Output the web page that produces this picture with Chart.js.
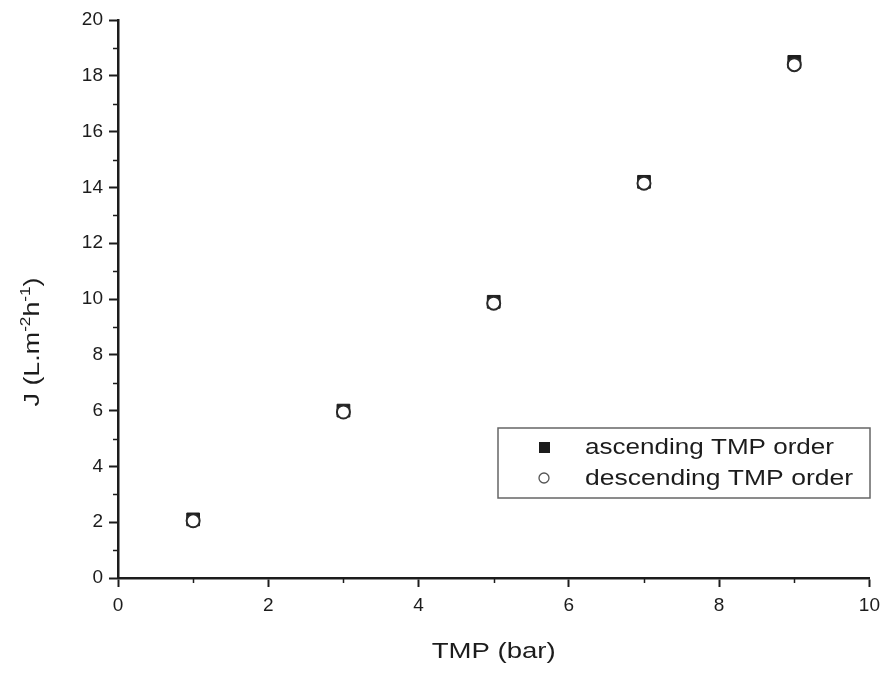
<!DOCTYPE html>
<html>
<head>
<meta charset="utf-8">
<script src="https://cdn.jsdelivr.net/npm/chart.js@4/dist/chart.umd.min.js"></script>
<style>
  html, body { margin: 0; padding: 0; background: #fff; }
  #wrap { width: 887px; height: 673px; }
</style>
</head>
<body>
<div id="wrap"><canvas id="flux"></canvas></div>
<script>
"use strict";

// TMP (bar) and permeate flux J (L.m-2h-1)
const tmp = [1, 3, 5, 7, 9];
const fluxAscending = [2.1, 6.0, 9.9, 14.2, 18.5];
const fluxDescending = [2.05, 5.95, 9.85, 14.15, 18.4];
const seriesLabels = ['ascending TMP order', 'descending TMP order'];
const xTitle = 'TMP (bar)';
// y title split into [text, isSuperscript]
const yTitleParts = [['J (L.m', false], ['-2', true], ['h', false], ['-1', true], [')', false]];

const FONT = '"Liberation Sans", Arial, sans-serif';
const INK = '#1c1c1c';

// text in the scan is a little wider than the font, so squeeze it to a target width
function stretchedText(ctx, text, x, y, targetW, align) {
    const w = ctx.measureText(text).width;
    ctx.save();
    ctx.translate(x, y);
    ctx.scale(targetW / w, 1);
    ctx.textAlign = align;
    ctx.fillText(text, 0, 0);
    ctx.restore();
}

const extras = {
    id: 'extras',
    afterDraw(chart) {
        const ctx = chart.ctx;
        const xs = chart.scales.x, ys = chart.scales.y;
        const area = chart.chartArea;
        ctx.save();

        // minor ticks
        ctx.strokeStyle = INK;
        ctx.lineWidth = 1.5;
        for (let v = 1; v < 10; v += 2) {
            const px = Math.round(xs.getPixelForValue(v)) + 0.5;
            ctx.beginPath();
            ctx.moveTo(px, area.bottom);
            ctx.lineTo(px, area.bottom + 5);
            ctx.stroke();
        }
        for (let v = 1; v < 20; v += 2) {
            const py = Math.round(ys.getPixelForValue(v)) + 0.5;
            ctx.beginPath();
            ctx.moveTo(area.left, py);
            ctx.lineTo(area.left - 5, py);
            ctx.stroke();
        }

        // axis titles
        ctx.fillStyle = INK;
        ctx.textBaseline = 'middle';
        ctx.font = '22px ' + FONT;
        stretchedText(ctx, xTitle, (area.left + area.right) / 2, 652, 124, 'center');

        // y title, rotated, with superscripts
        const mainFont = '22px ' + FONT, supFont = '14px ' + FONT;
        let total = 0;
        const widths = yTitleParts.map(p => {
            ctx.font = p[1] ? supFont : mainFont;
            const w = ctx.measureText(p[0]).width;
            total += w;
            return w;
        });
        ctx.save();
        ctx.translate(31, 342);
        ctx.rotate(-Math.PI / 2);
        ctx.scale(129 / total, 1);
        ctx.textAlign = 'left';
        ctx.textBaseline = 'alphabetic';
        let cx = -total / 2;
        yTitleParts.forEach((p, i) => {
            ctx.font = p[1] ? supFont : mainFont;
            ctx.fillText(p[0], cx, p[1] ? -1 : 8);
            cx += widths[i];
        });
        ctx.restore();

        // legend
        const bx = 498, by = 428, bw = 372, bh = 70;
        ctx.strokeStyle = '#666';
        ctx.lineWidth = 1.5;
        ctx.strokeRect(bx, by, bw, bh);
        ctx.fillStyle = INK;
        ctx.font = '22px ' + FONT;
        ctx.textBaseline = 'middle';
        stretchedText(ctx, seriesLabels[0], 585, 448, 249, 'left');
        stretchedText(ctx, seriesLabels[1], 585, 479, 268, 'left');
        ctx.fillRect(539, 442, 11, 11);
        ctx.beginPath();
        ctx.arc(544, 478, 5, 0, Math.PI * 2);
        ctx.fillStyle = '#fff';
        ctx.fill();
        ctx.strokeStyle = '#555';
        ctx.lineWidth = 1.3;
        ctx.stroke();
        ctx.restore();
    }
};

new Chart(document.getElementById('flux'), {
    type: 'scatter',
    data: {
        datasets: [
            {
                label: seriesLabels[0],
                data: tmp.map((x, i) => ({ x: x, y: fluxAscending[i] })),
                order: 1,
                pointStyle: 'rect',
                pointRadius: 9,
                backgroundColor: INK,
                borderColor: INK,
                borderWidth: 1
            },
            {
                // drawn on top of the squares, as in the original
                label: seriesLabels[1],
                data: tmp.map((x, i) => ({ x: x, y: fluxDescending[i] })),
                order: 0,
                pointStyle: 'circle',
                pointRadius: 6.5,
                backgroundColor: '#fff',
                borderColor: '#2a2a2a',
                borderWidth: 2
            }
        ]
    },
    options: {
        responsive: true,
        maintainAspectRatio: false,
        animation: false,
        layout: { padding: { top: 20, right: 15, left: 0, bottom: 0 } },
        plugins: {
            legend: { display: false },
            tooltip: { enabled: false }
        },
        scales: {
            x: {
                type: 'linear',
                min: 0,
                max: 10,
                ticks: { stepSize: 2, color: INK, font: { family: FONT, size: 19 }, padding: 7 },
                grid: { drawOnChartArea: false, tickLength: 9, tickColor: INK, tickWidth: 2 },
                border: { color: INK, width: 2.5 },
                afterFit(s) { s.height = 95; }
            },
            y: {
                min: 0,
                max: 20,
                ticks: { stepSize: 2, color: INK, font: { family: FONT, size: 19 }, padding: 6 },
                grid: { drawOnChartArea: false, tickLength: 9, tickColor: INK, tickWidth: 2 },
                border: { color: INK, width: 2.5 },
                afterFit(s) { s.width = 118; }
            }
        }
    },
    plugins: [extras]
});
</script>
</body>
</html>
